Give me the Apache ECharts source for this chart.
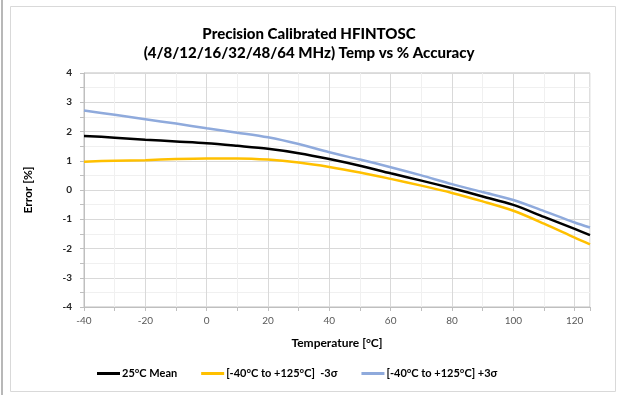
<!DOCTYPE html>
<html><head><meta charset="utf-8">
<script src="https://cdn.jsdelivr.net/npm/echarts@6/dist/echarts.min.js"></script>
<style>html,body{margin:0;padding:0;background:#fff}#c{width:618px;height:395px}</style>
</head><body><div id="c"></div>
<script>
const temps = [-40, -30, -20, -10, 0, 10, 20, 30, 40, 50, 60, 70, 80, 90, 100, 110, 120, 125];
const meanVals = [1.85, 1.79, 1.72, 1.66, 1.60, 1.51, 1.41, 1.26, 1.06, 0.83, 0.57, 0.32, 0.06, -0.22, -0.51, -0.92, -1.33, -1.54];
const minusVals = [0.97, 1.00, 1.02, 1.06, 1.08, 1.08, 1.04, 0.94, 0.79, 0.60, 0.38, 0.15, -0.10, -0.39, -0.71, -1.15, -1.63, -1.86];
const plusVals = [2.72, 2.57, 2.42, 2.27, 2.11, 1.96, 1.80, 1.57, 1.29, 1.04, 0.78, 0.50, 0.20, -0.07, -0.34, -0.72, -1.11, -1.28];
const seriesNames = ['25°C Mean', '[-40°C to +125°C]  -3σ', '[-40°C to +125°C] +3σ'];
const seriesColors = ['#000000', '#FFC000', '#8FAADC'];
const titleLines = ['Precision Calibrated HFINTOSC', '(4/8/12/16/32/48/64 MHz) Temp vs % Accuracy'];

const FONT = 'Lato';
const pair = (vals) => temps.map((t, i) => [t, vals[i]]);
const chart = echarts.init(document.getElementById('c'));
chart.setOption({
  animation: false,
  textStyle: { fontFamily: FONT },
  graphic: [
    { type: 'rect', shape: { x: 1, y: 0, width: 2, height: 395 }, style: { fill: '#b8b8b8' } },
    { type: 'rect', shape: { x: 10.5, y: 6.5, width: 605, height: 385 }, style: { fill: 'none', stroke: '#d9d9d9', lineWidth: 1 } }
  ],
  title: {
    text: titleLines.join('\n'),
    left: 'center', top: 20,
    textStyle: { fontFamily: FONT, fontSize: 15, fontWeight: 900, color: '#000', lineHeight: 19 }
  },
  legend: {
    left: 92, top: 363,
    itemWidth: 23, itemHeight: 3, itemGap: 24,
    icon: 'rect',
    textStyle: { fontFamily: FONT, fontSize: 11, fontWeight: 'bold', color: '#000', padding: [0, 0, 0, -3] },
    data: seriesNames
  },
  grid: { left: 84, right: 28, top: 73, bottom: 88, show: true, borderColor: '#bfbfbf', borderWidth: 1 },
  xAxis: {
    type: 'value', min: -40, max: 125, interval: 10,
    name: 'Temperature [°C]', nameLocation: 'middle', nameGap: 30,
    nameTextStyle: { fontFamily: FONT, fontSize: 12, fontWeight: 'bold', color: '#000' },
    axisLine: { onZero: false, lineStyle: { color: '#bfbfbf' } },
    axisTick: { show: true, length: 4, lineStyle: { color: '#bfbfbf' } },
    axisLabel: { fontFamily: FONT, fontSize: 10, color: '#595959', margin: 9,
      formatter: v => (v % 20 === 0 && v <= 120) ? String(v) : '' },
    splitLine: { show: true, lineStyle: { color: ['#d9d9d9', '#f0f0f0'], width: 1 } }
  },
  yAxis: {
    type: 'value', min: -4, max: 4, interval: 0.5,
    name: 'Error [%]', nameLocation: 'middle', nameGap: 50, nameRotate: 90,
    nameTextStyle: { fontFamily: FONT, fontSize: 12, fontWeight: 'bold', color: '#000' },
    axisLine: { show: true, onZero: false, lineStyle: { color: '#bfbfbf' } },
    axisTick: { show: true, length: 4, lineStyle: { color: '#bfbfbf' } },
    axisLabel: { fontFamily: FONT, fontSize: 10, fontWeight: 'bold', color: '#262626', margin: 12,
      formatter: v => Number.isInteger(v) ? String(v) : '' },
    splitLine: { show: true, lineStyle: { color: ['#d9d9d9', '#f0f0f0'], width: 1 } }
  },
  series: [
    { name: seriesNames[0], type: 'line', data: pair(meanVals), smooth: 0.3, showSymbol: false, z: 4,
      lineStyle: { color: seriesColors[0], width: 2.5 }, itemStyle: { color: seriesColors[0] } },
    { name: seriesNames[1], type: 'line', data: pair(minusVals), smooth: 0.3, showSymbol: false, z: 3,
      lineStyle: { color: seriesColors[1], width: 2.5 }, itemStyle: { color: seriesColors[1] } },
    { name: seriesNames[2], type: 'line', data: pair(plusVals), smooth: 0.3, showSymbol: false, z: 2,
      lineStyle: { color: seriesColors[2], width: 2.5 }, itemStyle: { color: seriesColors[2] } }
  ]
});
</script></body></html>
